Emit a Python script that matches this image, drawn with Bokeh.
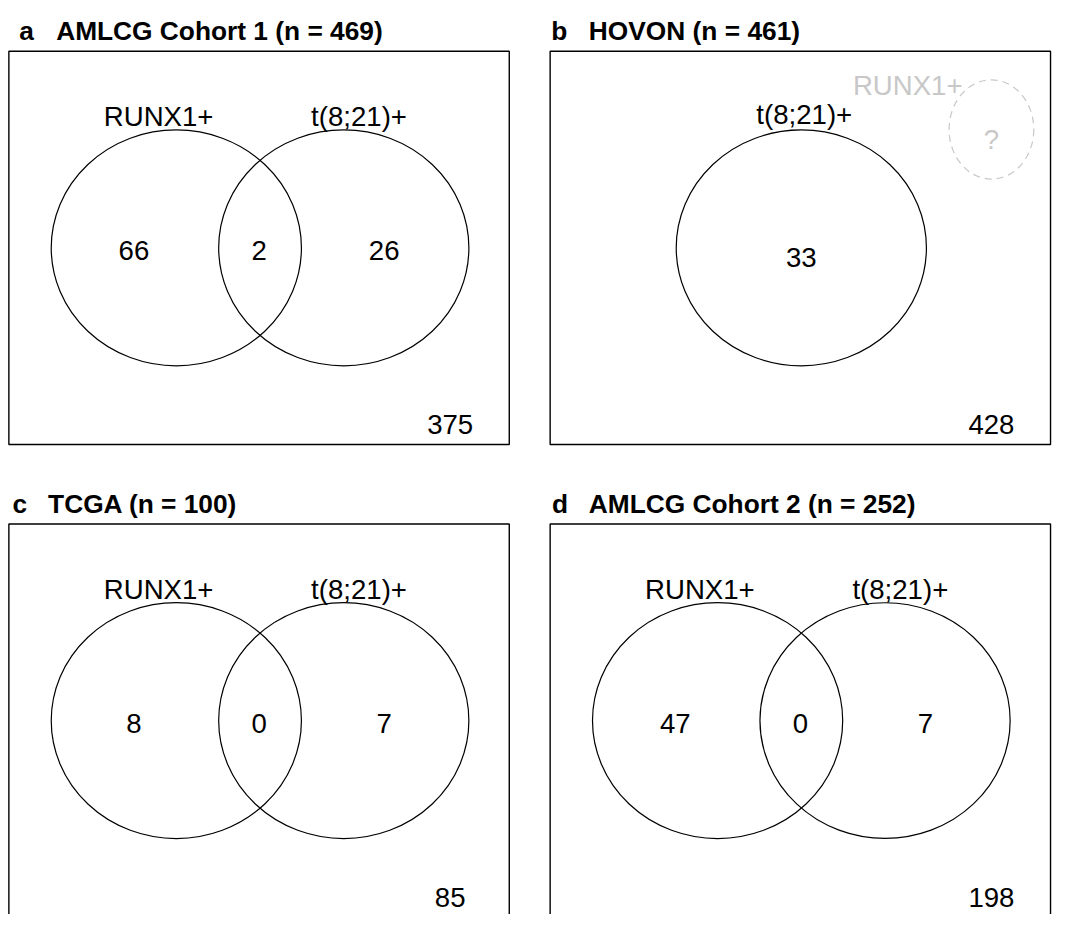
from bokeh.plotting import figure
from bokeh.models import Range1d
from bokeh.core.properties import value
from bokeh.embed import file_html
from bokeh.resources import INLINE

# ---------------- data ----------------
panel_letters = ["a", "b", "c", "d"]
panel_titles = ["AMLCG Cohort 1 (n = 469)", "HOVON (n = 461)",
                "TCGA (n = 100)", "AMLCG Cohort 2 (n = 252)"]
set_labels = ["RUNX1+", "t(8;21)+"]
runx1_only = [66, None, 8, 47]      # None: RUNX1 status not available
both_sets = [2, None, 0, 0]
t821_only = [26, 33, 7, 7]
neither = [375, 428, 85, 198]
unknown_mark = "?"

# ---------------- layout (reference pixel space) ----------------
FONT = value("Liberation Sans")
BOX_W, BOX_H = 508, 400
origins = [(8.5, 51.7), (558, 51.7), (8.5, 532.7), (558, 532.7)]
letter_x = [19, 559, 12.3, 560]
title_x = [56.5, 597.3, 48.3, 597.3]
TITLE_DY = -20.5
CIRC_W, CIRC_H, CIRC_DY = 254, 240, 200
GREY = "#c8c8c8"
TXT = "27.6px"
TTL = "26.3px"

p = figure(width=1052, height=914,
           x_range=Range1d(0, 1068), y_range=Range1d(930, 0),
           output_backend="svg", toolbar_location=None,
           x_axis_location=None, y_axis_location=None, min_border=0)
p.grid.visible = False
p.outline_line_color = None
p.background_fill_color = "white"
p.border_fill_color = "white"

# boxes (lower panels run off the bottom edge as in the reference)
p.quad(left=[o[0] for o in origins], right=[o[0] + BOX_W for o in origins],
       top=[o[1] for o in origins], bottom=[o[1] + BOX_H for o in origins],
       fill_color=None, line_color="black", line_width=1.4)

# titles
p.text(x=letter_x, y=[o[1] + TITLE_DY for o in origins], text=panel_letters,
       text_font=FONT, text_font_style="bold", text_font_size=TTL,
       text_align="left", text_baseline="alphabetic", text_color="black")
p.text(x=title_x, y=[o[1] + TITLE_DY for o in origins], text=panel_titles,
       text_font=FONT, text_font_style="bold", text_font_size=TTL,
       text_align="left", text_baseline="alphabetic", text_color="black")

cx, cy, lx, ly, lt = [], [], [], [], []
nx, ny, nt = [], [], []
for i, (ox, oy) in enumerate(origins):
    if runx1_only[i] is not None:
        # two-set diagram
        cx += [ox + 170, ox + 340]
        cy += [oy + CIRC_DY] * 2
        lx += [ox + 152, ox + 355.5]
        ly += [oy + 66.5] * 2
        lt += set_labels
        nx += [ox + 127, ox + 254, ox + 381]
        ny += [oy + 203] * 3
        nt += [str(runx1_only[i]), str(both_sets[i]), str(t821_only[i])]
    else:
        # single-set diagram
        cx += [ox + 255]
        cy += [oy + CIRC_DY]
        lx += [ox + 258]
        ly += [oy + 64]
        lt += [set_labels[1]]
        nx += [ox + 255]
        ny += [oy + 210]
        nt += [str(t821_only[i])]
        # unavailable set (grey, dashed)
        p.ellipse(x=[ox + 448], y=[oy + 79.5], width=86, height=101,
                  fill_color=None, line_color=GREY, line_width=1.2,
                  line_dash="7 5")
        p.text(x=[ox + 363, ox + 448], y=[oy + 34.5, oy + 90],
               text=[set_labels[0], unknown_mark],
               text_font=FONT, text_font_size=TXT, text_color=GREY,
               text_align="center", text_baseline="alphabetic")
    nx += [ox + 448]
    ny += [oy + 380]
    nt += [str(neither[i])]

p.ellipse(x=cx, y=cy, width=CIRC_W, height=CIRC_H, fill_color=None,
          line_color="black", line_width=1.2)
p.text(x=lx, y=ly, text=lt, text_font=FONT, text_font_size=TXT,
       text_color="black", text_align="center", text_baseline="alphabetic")
p.text(x=nx, y=ny, text=nt, text_font=FONT, text_font_size=TXT,
       text_color="black", text_align="center", text_baseline="alphabetic")

open("out.html", "w").write(file_html(p, INLINE))
